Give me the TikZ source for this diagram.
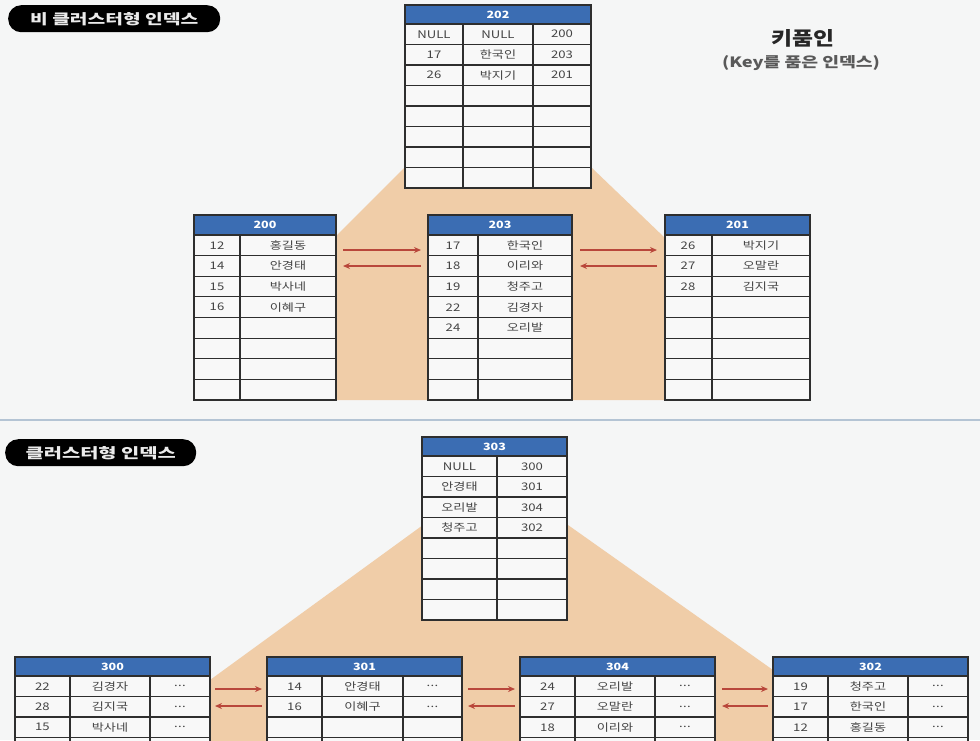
\documentclass[tikz,border=0pt]{standalone}
\usepackage{fontspec}
\usepackage{graphicx}
\setmainfont{Noto Sans CJK KR}[FakeStretch=1.25]
\usetikzlibrary{arrows.meta,calc}
\definecolor{bgc}{HTML}{F5F6F6}
\definecolor{peach}{HTML}{F0CDA8}
\definecolor{hdrblue}{HTML}{3B6DB3}
\definecolor{bordc}{HTML}{2E2E2E}
\definecolor{cellc}{HTML}{F8F8F8}
\definecolor{celltxt}{HTML}{444444}
\definecolor{arrc}{HTML}{B9473B}
\definecolor{divc}{HTML}{B4C4D4}
\newcounter{cellno}
\newcommand\trail{{.\kern0.3pt.\kern0.3pt.}}
\tikzset{
  tblbox/.style={fill=cellc, draw=none, inner sep=0pt, outer sep=0pt},
  gridln/.style={draw=bordc, line width=1.2pt},
  tblframe/.style={draw=bordc, line width=1.6pt},
  hdrfill/.style={fill=hdrblue},
  hdrtext/.style={text=white, font=\fontsize{10}{12}\selectfont\bfseries, inner sep=0pt},
  celltext/.style={text=celltxt, font=\fontsize{10.5}{12}\selectfont, inner sep=0pt},
  linkarrow/.style={draw=arrc, line width=1.3pt, -{Stealth[length=7pt,width=6pt]}},
  pill/.style={fill=black, rounded corners=13pt, draw=none, inner sep=0pt, text=white!92!black, font=\bfseries},
}
\newcommand\drawtable[9]{%
  \node[tblbox, anchor=north west, minimum width={(#4-#2)*1pt}, minimum height={(#5-#3)*1pt}] (#1) at (#2,#3) {};
  \fill[hdrfill] (#1.north west) rectangle ($(#1.north east)+(0,#6)$);
  \node[hdrtext] (#1-title) at ($(#1.north)+(0,#6/2)$) {#9};
  \pgfmathsetmacro\rowh{(#5-#3-#6)/#7}
  \foreach \k in {0,...,#7} {\draw[gridln] ($(#1.north west)+(0,#6+\k*\rowh)$) -- ($(#1.north east)+(0,#6+\k*\rowh)$);}
  \foreach \c in {#8} {\draw[gridln] (\c,#3+#6) -- (\c,#5);}
  \draw[tblframe] (#1.north west) rectangle (#1.south east);
}
\newcommand\cells[2]{\foreach \xx/\txt in {#2} {\stepcounter{cellno}\node[celltext] (cell\arabic{cellno}) at (\xx,#1) {\txt};}}
\begin{document}
\begin{tikzpicture}[x=1pt,y=-1pt]
\useasboundingbox (0,0) rectangle (980,740);
\clip (0,0) rectangle (980,740);
\fill[bgc] (0,0) rectangle (980,740);
% peach fans
\fill[peach] (404,168) -- (592,168) -- (665,238) -- (665,400) -- (336,400) -- (336,236) -- cycle;
\fill[peach] (423,525) -- (568,525) -- (773,670) -- (773,760) -- (210,760) -- (210,680) -- cycle;
% divider
\draw[divc, line width=1.5pt] (0,420) -- (980,420);
% labels
\node[pill, minimum width=212pt, minimum height=27pt, anchor=north west] (lab1) at (8,5) {\resizebox{168pt}{12pt}{비 클러스터형 인덱스}};
\node[pill, minimum width=191pt, minimum height=27pt, anchor=north west] (lab2) at (5,439) {\resizebox{150pt}{12pt}{클러스터형 인덱스}};
\node[font=\bfseries, text=black!85, inner sep=0pt] (kp) at (803,38) {\resizebox{63pt}{16pt}{키품인}};
\node[font=\bfseries, text=black!65, inner sep=0pt] (kpsub) at (801,63) {\resizebox{158pt}{12pt}{(Key를 품은 인덱스)}};
% ---------- top: non-clustered ----------
\drawtable{t202}{405}{5}{591}{188}{19}{8}{463,533}{202}
\cells{34.25}{434/NULL,498/NULL,562/200}
\cells{54.75}{434/17,498/한국인,562/203}
\cells{75.25}{434/26,498/박지기,562/201}
\drawtable{t200}{194}{215}{336}{400}{20}{8}{240}{200}
\cells{245.3}{217/12,288/홍길동}
\cells{265.9}{217/14,288/안경태}
\cells{286.6}{217/15,288/박사네}
\cells{307.2}{217/16,288/이혜구}
\drawtable{t203}{428}{215}{572}{400}{20}{8}{478}{203}
\cells{245.3}{453/17,525/한국인}
\cells{265.9}{453/18,525/이리와}
\cells{286.6}{453/19,525/청주고}
\cells{307.2}{453/22,525/김경자}
\cells{327.8}{453/24,525/오리발}
\drawtable{t201}{665}{215}{810}{400}{20}{8}{712}{201}
\cells{245.3}{688/26,761/박지기}
\cells{265.9}{688/27,761/오말란}
\cells{286.6}{688/28,761/김지국}
\draw[linkarrow] ($(t200.north east)+(7,35)$) -- ($(t203.north west)+(-7,35)$);
\draw[linkarrow] ($(t203.north west)+(-7,51)$) -- ($(t200.north east)+(7,51)$);
\draw[linkarrow] ($(t203.north east)+(8,35)$) -- ($(t201.north west)+(-8,35)$);
\draw[linkarrow] ($(t201.north west)+(-8,51)$) -- ($(t203.north east)+(8,51)$);
% ---------- bottom: clustered ----------
\drawtable{t303}{422}{437}{567}{620}{19}{8}{497}{303}
\cells{466.25}{459.5/NULL,532/300}
\cells{486.75}{459.5/안경태,532/301}
\cells{507.25}{459.5/오리발,532/304}
\cells{527.75}{459.5/청주고,532/302}
\drawtable{t300}{15}{657}{210}{840}{19}{8}{70,150}{300}
\cells{686.25}{42.5/22,110/김경자,180/\trail}
\cells{706.75}{42.5/28,110/김지국,180/\trail}
\cells{727.25}{42.5/15,110/박사네,180/\trail}
\drawtable{t301}{267}{657}{462}{840}{19}{8}{322,403}{301}
\cells{686.25}{294.5/14,362.5/안경태,432.5/\trail}
\cells{706.75}{294.5/16,362.5/이혜구,432.5/\trail}
\drawtable{t304}{520}{657}{715}{840}{19}{8}{575,655}{304}
\cells{686.25}{547.5/24,615/오리발,685/\trail}
\cells{706.75}{547.5/27,615/오말란,685/\trail}
\cells{727.25}{547.5/18,615/이리와,685/\trail}
\drawtable{t302}{773}{657}{968}{840}{19}{8}{828,908}{302}
\cells{686.25}{800.5/19,868/청주고,938/\trail}
\cells{706.75}{800.5/17,868/한국인,938/\trail}
\cells{727.25}{800.5/12,868/홍길동,938/\trail}
\draw[linkarrow] ($(t300.north east)+(5,32)$) -- ($(t301.north west)+(-5,32)$);
\draw[linkarrow] ($(t301.north west)+(-5,49)$) -- ($(t300.north east)+(5,49)$);
\draw[linkarrow] ($(t301.north east)+(6,32)$) -- ($(t304.north west)+(-5,32)$);
\draw[linkarrow] ($(t304.north west)+(-5,49)$) -- ($(t301.north east)+(6,49)$);
\draw[linkarrow] ($(t304.north east)+(7,32)$) -- ($(t302.north west)+(-5,32)$);
\draw[linkarrow] ($(t302.north west)+(-5,49)$) -- ($(t304.north east)+(7,49)$);
\end{tikzpicture}
\end{document}
